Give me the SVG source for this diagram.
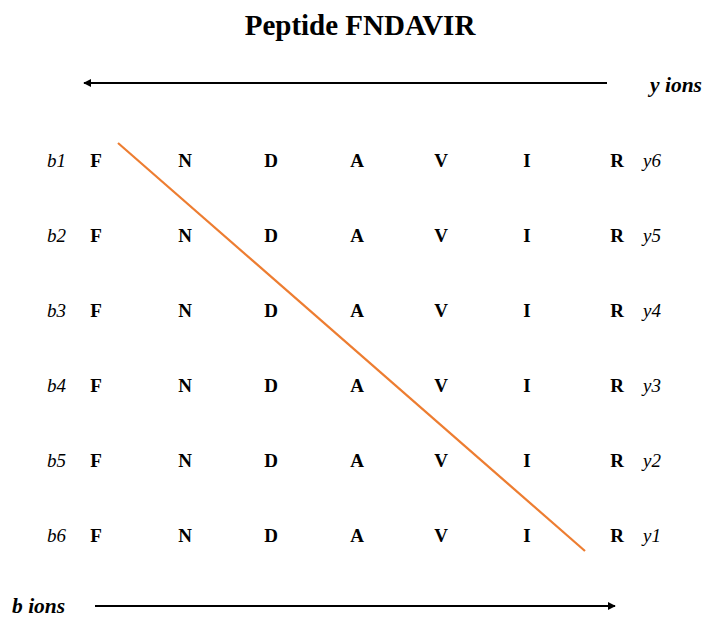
<svg xmlns="http://www.w3.org/2000/svg" width="706" height="618" viewBox="0 0 706 618">
<style>
text{font-family:'Liberation Serif','Times New Roman',serif;}
.title{font-size:29px;font-weight:bold;text-anchor:middle;}
.aa{font-size:19px;font-weight:bold;text-anchor:middle;}
.lab{font-size:19px;font-style:italic;}
.ions{font-size:21.5px;font-style:italic;font-weight:bold;}
.arr{stroke:#000;stroke-width:2;fill:none;}
</style>
<defs>
<marker id="ah" viewBox="0 0 10 10" refX="9" refY="5" markerWidth="4" markerHeight="4" orient="auto" markerUnits="strokeWidth">
<path d="M0,0 L10,5 L0,10 z" fill="#000"/>
</marker>
</defs>
<g id="title"><text class="title" x="360" y="35">Peptide FNDAVIR</text></g>
<g id="labels">
<text class="ions" x="650" y="92">y ions</text>
<text class="ions" x="12" y="613">b ions</text>
</g>
<g id="rows">
<g id="row1"><text class="lab" x="47" y="167">b1</text><text class="aa" x="96" y="167">F</text><text class="aa" x="185" y="167">N</text><text class="aa" x="271" y="167">D</text><text class="aa" x="357" y="167">A</text><text class="aa" x="441" y="167">V</text><text class="aa" x="527" y="167">I</text><text class="aa" x="617" y="167">R</text><text class="lab" x="643" y="167">y6</text></g>
<g id="row2"><text class="lab" x="47" y="242">b2</text><text class="aa" x="96" y="242">F</text><text class="aa" x="185" y="242">N</text><text class="aa" x="271" y="242">D</text><text class="aa" x="357" y="242">A</text><text class="aa" x="441" y="242">V</text><text class="aa" x="527" y="242">I</text><text class="aa" x="617" y="242">R</text><text class="lab" x="643" y="242">y5</text></g>
<g id="row3"><text class="lab" x="47" y="317">b3</text><text class="aa" x="96" y="317">F</text><text class="aa" x="185" y="317">N</text><text class="aa" x="271" y="317">D</text><text class="aa" x="357" y="317">A</text><text class="aa" x="441" y="317">V</text><text class="aa" x="527" y="317">I</text><text class="aa" x="617" y="317">R</text><text class="lab" x="643" y="317">y4</text></g>
<g id="row4"><text class="lab" x="47" y="392">b4</text><text class="aa" x="96" y="392">F</text><text class="aa" x="185" y="392">N</text><text class="aa" x="271" y="392">D</text><text class="aa" x="357" y="392">A</text><text class="aa" x="441" y="392">V</text><text class="aa" x="527" y="392">I</text><text class="aa" x="617" y="392">R</text><text class="lab" x="643" y="392">y3</text></g>
<g id="row5"><text class="lab" x="47" y="467">b5</text><text class="aa" x="96" y="467">F</text><text class="aa" x="185" y="467">N</text><text class="aa" x="271" y="467">D</text><text class="aa" x="357" y="467">A</text><text class="aa" x="441" y="467">V</text><text class="aa" x="527" y="467">I</text><text class="aa" x="617" y="467">R</text><text class="lab" x="643" y="467">y2</text></g>
<g id="row6"><text class="lab" x="47" y="542">b6</text><text class="aa" x="96" y="542">F</text><text class="aa" x="185" y="542">N</text><text class="aa" x="271" y="542">D</text><text class="aa" x="357" y="542">A</text><text class="aa" x="441" y="542">V</text><text class="aa" x="527" y="542">I</text><text class="aa" x="617" y="542">R</text><text class="lab" x="643" y="542">y1</text></g>
</g>
<g id="connectors">
<line class="arr" x1="607" y1="83" x2="84" y2="83" marker-end="url(#ah)"/>
<line class="arr" x1="95" y1="606" x2="615" y2="606" marker-end="url(#ah)"/>
<line x1="118" y1="143" x2="585" y2="551" stroke="#ED7D31" stroke-width="2.2"/>
</g>
</svg>
